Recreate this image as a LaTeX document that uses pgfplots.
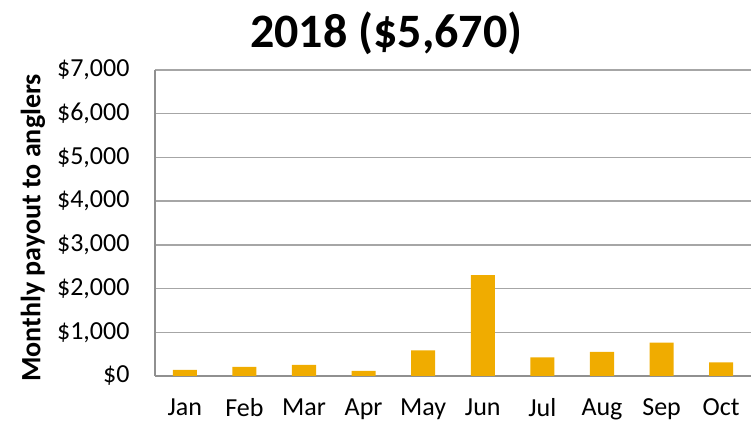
\documentclass[border=0pt]{standalone}
\usepackage{fontspec}
\setmainfont{Carlito}
\usepackage{pgfplots}
\pgfplotsset{compat=1.18}
\definecolor{barc}{HTML}{F0AC00}
\definecolor{gridc}{HTML}{A6A6A6}
\definecolor{axc}{HTML}{909090}
\begin{document}
\begin{tikzpicture}
\begin{axis}[
  at={(155pt,49pt)}, anchor=south west,
  scale only axis, width=596pt, height=306pt,
  xmin=-0.5, xmax=9.5, ymin=0, ymax=7000,
  ybar, bar width=24pt,
  xtick={0,...,9},
  xticklabels={Jan,Feb,Mar,Apr,May,Jun,Jul,Aug,Sep,Oct},
  ytick={0,1000,...,7000},
  yticklabel={\$\pgfmathprintnumber{\tick}},
  /pgf/number format/.cd, 1000 sep={,}, assume math mode=true, /pgfplots/.cd,
  major tick length=0pt,
  ymajorgrids, grid style={gridc, line width=1.3pt},
  axis line style={axc, line width=1.3pt},
  axis x line*=bottom, axis y line*=left,
  x axis line style={-}, y axis line style={-},
  tick label style={font=\fontsize{26}{30}\selectfont, black},
  xticklabel style={yshift=-19pt},
  yticklabel style={xshift=-22pt},
  title={\textbf{2018 (\$5,670)}},
  title style={font=\fontsize{48}{54}\selectfont, at={(rel axis cs:0.388,1.10)}, anchor=center},
  ylabel={\textbf{Monthly payout to anglers}},
  ylabel style={font=\fontsize{28}{32}\selectfont, at={(rel axis cs:-0.205,0.484)}, anchor=center, rotate=0},
]
\addplot[fill=barc, draw=none] coordinates {(0,140) (1,210) (2,255) (3,120) (4,585) (5,2310) (6,425) (7,550) (8,765) (9,310)};
\end{axis}
\pgfresetboundingbox
\path[use as bounding box] (0,0) rectangle (755pt,425pt);
\end{tikzpicture}
\end{document}
